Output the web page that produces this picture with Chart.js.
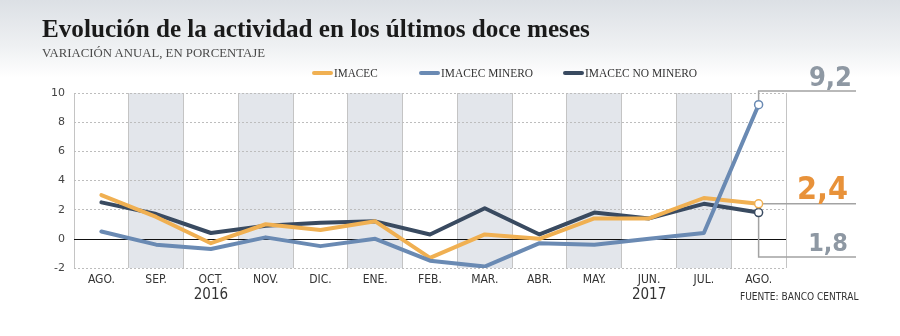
<!DOCTYPE html>
<html>
<head>
<meta charset="utf-8">
<script src="https://cdn.jsdelivr.net/npm/chart.js@4/dist/chart.umd.min.js"></script>
<style>
  html, body { margin:0; padding:0; }
  body { width:900px; height:336px; position:relative; overflow:hidden;
         background: linear-gradient(to bottom, #dce0e5 0px, #eef0f2 45px, #ffffff 78px, #ffffff 100%); }
  #chart { position:absolute; left:0; top:0; }
  .txt { position:absolute; white-space:nowrap; transform-origin:0 0; }
  #title { left:42px; top:16px; font-family:"Liberation Serif", serif; font-weight:bold; font-size:22px; color:#1a1a1a; line-height:1; }
  #sub { left:42px; top:46px; font-family:"Liberation Serif", serif; font-size:13px; color:#4a4a4a; line-height:1; }
  .leg { position:absolute; top:66px; height:14px; }
  .leg i { position:absolute; left:0; top:5px; width:21px; height:4px; border-radius:2px; }
  .leg span { position:absolute; left:22px; top:0; white-space:nowrap; transform-origin:0 0;
              font-family:"Liberation Serif", serif; font-size:13px; color:#333; line-height:14px; }
  #src { left:740px; top:290px; font-family:"Liberation Sans Narrow", "DejaVu Sans Condensed", sans-serif; font-size:11px; color:#333; }
</style>
</head>
<body>
<canvas id="chart" width="900" height="336"></canvas>
<div id="title" class="txt">Evolución de la actividad en los últimos doce meses</div>
<div id="sub" class="txt">VARIACIÓN ANUAL, EN PORCENTAJE</div>
<div id="legend"></div>
<div id="src" class="txt">FUENTE: BANCO CENTRAL</div>
<script>
// data
const months = ['AGO.','SEP.','OCT.','NOV.','DIC.','ENE.','FEB.','MAR.','ABR.','MAY.','JUN.','JUL.','AGO.'];
const imacec      = [3.0, 1.5, -0.3, 1.0, 0.6, 1.2, -1.3, 0.3, 0.0, 1.4, 1.4, 2.8, 2.4];
const minero      = [0.5, -0.4, -0.7, 0.1, -0.5, 0.0, -1.5, -1.9, -0.3, -0.4, 0.0, 0.4, 9.2];
const noMinero    = [2.5, 1.7, 0.4, 0.9, 1.1, 1.2, 0.3, 2.1, 0.3, 1.8, 1.4, 2.4, 1.8];
const yTicks      = [-2, 0, 2, 4, 6, 8, 10];
const years       = [{label:'2016', at:2}, {label:'2017', at:10}];
const shaded      = [1, 3, 5, 7, 9, 11];

const C_IMACEC = '#f0b052', C_MIN = '#6a8ab3', C_NOMIN = '#394a60';
const last = months.length - 1;

// squeeze an element horizontally to a given width
function fitX(el, w){ el.style.transform = 'scaleX(' + (w / el.offsetWidth) + ')'; }

// legend (html): [label, colour, left, text width]
const legItems = [['IMACEC', C_IMACEC, 312, 44], ['IMACEC MINERO', C_MIN, 419, 92], ['IMACEC NO MINERO', C_NOMIN, 563, 112]];
const legEl = document.getElementById('legend');
legItems.forEach(it=>{
  const d = document.createElement('div');
  d.className = 'leg'; d.style.left = it[2]+'px';
  d.innerHTML = '<i style="background:'+it[1]+'"></i><span>'+it[0]+'</span>';
  legEl.appendChild(d);
  fitX(d.querySelector('span'), it[3]);
});

// title: size so that it spans the reference width
(function(){
  const el = document.getElementById('title');
  let fs = 22;
  for(let k=0;k<4;k++){ fs = fs * 548 / el.offsetWidth; el.style.fontSize = fs+'px'; }
})();
fitX(document.getElementById('sub'), 223);
fitX(document.getElementById('src'), 118);

function fmt(v){ return v.toFixed(1).replace('.', ','); }

const bgPlugin = {
  id: 'bands',
  beforeDraw(chart){
    const {ctx, chartArea:a, scales:{x}} = chart;
    const half = (x.getPixelForValue(1) - x.getPixelForValue(0)) / 2;
    ctx.save();
    ctx.fillStyle = '#e3e6eb';
    shaded.forEach(i=>{
      const px = x.getPixelForValue(i);
      ctx.fillRect(px-half, a.top, half*2, a.bottom-a.top);
    });
    ctx.restore();
  },
  beforeDatasetsDraw(chart){
    const {ctx, chartArea:a, scales:{x, y}} = chart;
    ctx.save();
    // zero line
    const y0 = Math.round(y.getPixelForValue(0)) + 0.5;
    ctx.strokeStyle = '#111'; ctx.lineWidth = 1;
    ctx.beginPath(); ctx.moveTo(a.left, y0); ctx.lineTo(a.right, y0); ctx.stroke();

    // leaders for the last values
    const px = x.getPixelForValue(last);
    const endX = 856;
    ctx.strokeStyle = '#a3a3a3'; ctx.lineWidth = 1.5;
    const yMin = y.getPixelForValue(minero[last]);
    const yImc = y.getPixelForValue(imacec[last]);
    const yNom = y.getPixelForValue(noMinero[last]);
    ctx.beginPath();
    ctx.moveTo(px, yMin); ctx.lineTo(px, 91); ctx.lineTo(endX, 91);
    ctx.moveTo(px, yImc); ctx.lineTo(endX, yImc);
    ctx.moveTo(px, yNom); ctx.lineTo(px, 257); ctx.lineTo(endX, 257);
    ctx.stroke();

    ctx.textAlign = 'right'; ctx.textBaseline = 'alphabetic';
    const numFont = '"Liberation Sans Narrow", "DejaVu Sans Condensed", sans-serif';
    ctx.fillStyle = '#8e98a3';
    ctx.font = 'bold 27px ' + numFont;
    ctx.fillText(fmt(minero[last]), 852, 86);
    ctx.fillStyle = '#e8923a';
    ctx.font = 'bold 32px ' + numFont;
    ctx.fillText(fmt(imacec[last]), 848, 199);
    ctx.fillStyle = '#8e98a3';
    ctx.font = 'bold 25px ' + numFont;
    ctx.fillText(fmt(noMinero[last]), 848, 251);
    ctx.restore();
  },
  afterDraw(chart){
    const {ctx, scales:{x}} = chart;
    ctx.save();
    ctx.fillStyle = '#333';
    ctx.font = '15px "Liberation Sans Narrow", "DejaVu Sans Condensed", sans-serif';
    ctx.textAlign = 'center'; ctx.textBaseline = 'middle';
    years.forEach(yr=>{ ctx.fillText(yr.label, x.getPixelForValue(yr.at), 295); });
    ctx.restore();
  }
};

function ds(label, data, color, order){
  return {
    label, data, order,
    borderColor: color, backgroundColor: color,
    borderWidth: 4, tension: 0,
    borderJoinStyle: 'round', borderCapStyle: 'round',
    pointRadius: c => c.dataIndex === last ? 4 : 0,
    pointBackgroundColor: '#fff',
    pointBorderColor: color,
    pointBorderWidth: 1.5,
    pointHoverRadius: 0
  };
}

new Chart(document.getElementById('chart'), {
  type: 'line',
  data: {
    labels: months,
    datasets: [
      ds('IMACEC', imacec, C_IMACEC, 2),
      ds('IMACEC MINERO', minero, C_MIN, 1),
      ds('IMACEC NO MINERO', noMinero, C_NOMIN, 3)
    ]
  },
  options: {
    responsive: false,
    devicePixelRatio: 1,
    animation: false,
    layout: { padding: { top: 93, right: 114, left: 0, bottom: 0 } },
    plugins: { legend: { display: false }, tooltip: { enabled: false } },
    scales: {
      x: {
        offset: true,
        grid: { offset: true, color: '#c4c4c4', lineWidth: 1, drawTicks: false },
        border: { display: false },
        ticks: { color: '#333', padding: 5, maxRotation: 0, autoSkip: false,
                 font: { family: '"Liberation Sans Narrow", "DejaVu Sans Condensed", sans-serif', size: 12 } },
        afterFit(s){ s.height = 68; }
      },
      y: {
        min: -2, max: 10,
        afterBuildTicks(s){ s.ticks = yTicks.map(v=>({value:v})); },
        grid: { color: c => c.tick && c.tick.value === 0 ? 'rgba(0,0,0,0)' : '#bdbdbd', lineWidth: 1, drawTicks: false },
        border: { display: false, dash: [2, 2] },
        ticks: { color: '#444', padding: 9,
                 font: { family: '"DejaVu Sans", sans-serif', size: 11 } },
        afterFit(s){ s.width = 74; }
      }
    }
  },
  plugins: [bgPlugin]
});
</script>
</body>
</html>
